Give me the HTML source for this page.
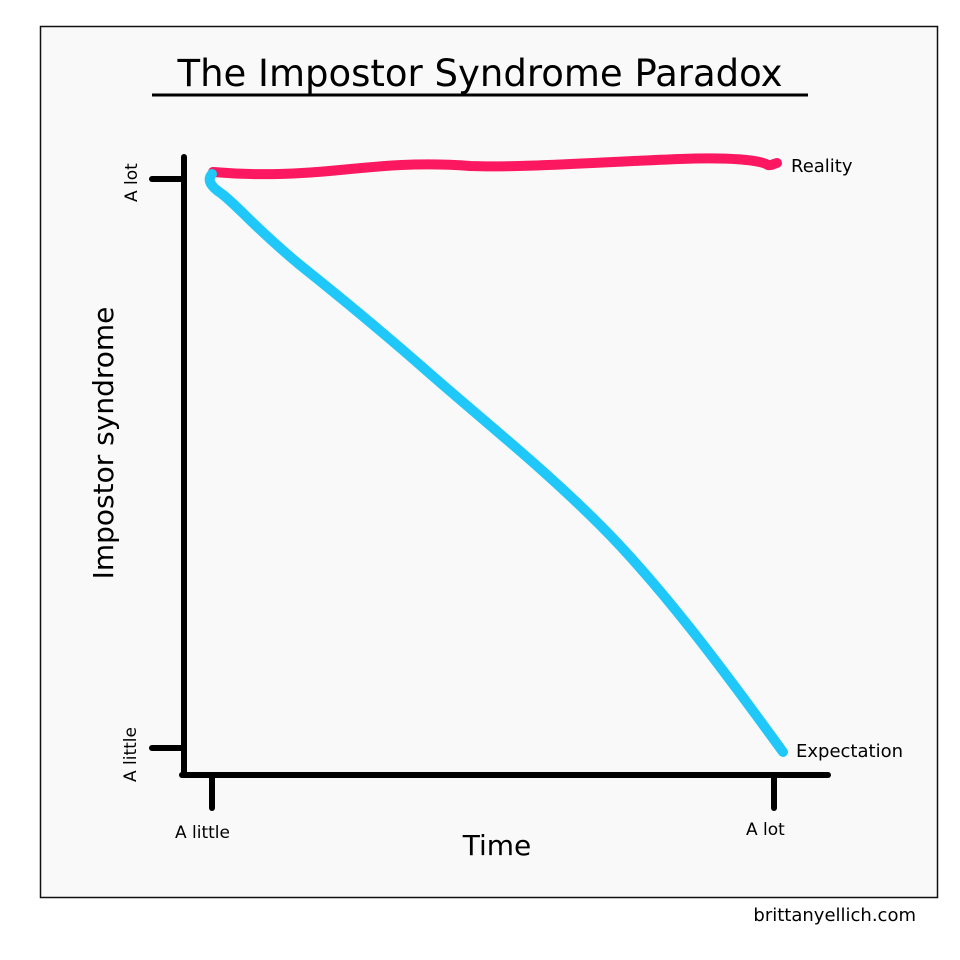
<!DOCTYPE html>
<html><head><style>
html,body{margin:0;padding:0;background:#fff;}
body{width:960px;height:960px;position:relative;overflow:hidden;font-family:"DejaVu Sans","Liberation Sans",sans-serif;}
</style></head><body>
<svg width="960" height="960" viewBox="0 0 960 960" xmlns="http://www.w3.org/2000/svg" style="position:absolute;left:0;top:0">
<rect x="40.5" y="26.5" width="897" height="871" fill="#f9f9f9" stroke="#111" stroke-width="1.5"/>
<text x="480" y="86" text-anchor="middle" font-size="37" font-family="DejaVu Sans, sans-serif" fill="#000">The Impostor Syndrome Paradox</text>
<line x1="152" y1="95" x2="808" y2="95" stroke="#000" stroke-width="3"/>
<g stroke="#000" stroke-width="6" stroke-linecap="round" fill="none">
<line x1="184" y1="157" x2="184" y2="775"/>
<line x1="182" y1="775" x2="828" y2="775"/>
<line x1="152" y1="179" x2="184" y2="179"/>
<line x1="152" y1="748" x2="184" y2="748"/>
<line x1="212" y1="775" x2="212" y2="808"/>
<line x1="774" y1="775" x2="774" y2="808"/>
</g>
<path d="M213 172 C260 176 300 174 340 170 C380 166 420 162 470 166 C520 168 600 162 680 159 C730 157 760 160 768 165 C772 166 775 163 777 163" stroke="#fb1860" stroke-width="10" stroke-linecap="round" fill="none"/>
<path d="M212 174 C207 180 210 186 222 194 C240 208 255 228 300 265 C340 297 380 330 420 365 C480 418 540 465 600 525 C660 585 720 665 783 752" stroke="#1fc8f8" stroke-width="10" stroke-linecap="round" fill="none"/>
<g font-family="DejaVu Sans, sans-serif" fill="#000">
<text x="791" y="172" font-size="18">Reality</text>
<text x="796" y="757" font-size="18">Expectation</text>
<text x="175" y="838" font-size="17">A little</text>
<text x="746" y="835" font-size="17">A lot</text>
<text x="497" y="855" font-size="28" text-anchor="middle">Time</text>
<text transform="translate(137,202) rotate(-90)" font-size="17">A lot</text>
<text transform="translate(136,782) rotate(-90)" font-size="17">A little</text>
<text transform="translate(113,443) rotate(-90)" font-size="28" text-anchor="middle">Impostor syndrome</text>
<text x="916" y="921" font-size="18" text-anchor="end">brittanyellich.com</text>
</g>
</svg>
</body></html>
